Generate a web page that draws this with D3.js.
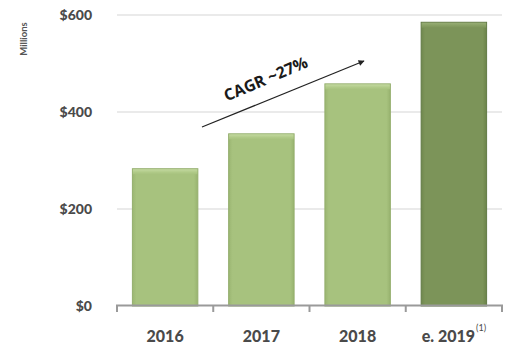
<!DOCTYPE html>
<html><head><meta charset="utf-8">
<script src="https://cdn.jsdelivr.net/npm/d3@7"></script>
<style>
body{margin:0;background:#fff;}
svg{display:block;}
.lbl{font-family:Lato,"Open Sans",sans-serif;font-weight:900;fill:#4a4a4a;}
</style></head>
<body>
<svg id="c" width="515" height="350"></svg>
<script>
const categories = ["2016","2017","2018","e. 2019"];
const values = [283, 355, 458, 585];
const yTicks = [0, 200, 400, 600];
const yTickLabels = ["$0","$200","$400","$600"];
const estimated = [false,false,false,true];
const annotation = "CAGR ~27%";
const yTitle = "Millions";

const svg = d3.select("#c");
const x = d3.scaleBand().domain(categories).range([117, 502]).paddingInner(0.32).paddingOuter(0.16);
const y = d3.scaleLinear().domain([0, 600]).range([306, 15]);

const defs = svg.append("defs");
function grad(id, stops){
  const g = defs.append("linearGradient").attr("id", id).attr("x1",0).attr("y1",0).attr("x2",0).attr("y2",1);
  stops.forEach(s=>g.append("stop").attr("offset",s[0]).attr("stop-color",s[1]));
}
function hgrad(id, stops){
  const g = defs.append("linearGradient").attr("id", id).attr("x1",0).attr("y1",0).attr("x2",1).attr("y2",0);
  stops.forEach(s=>g.append("stop").attr("offset",s[0]).attr("stop-color",s[1]));
}
hgrad("gl",[["0%","#9bb672"],["6%","#a7c27e"],["94%","#a7c27e"],["100%","#98b36f"]]);
hgrad("gd",[["0%","#6f874d"],["6%","#7c9459"],["94%","#7c9459"],["100%","#6b8349"]]);
grad("tl",[["0%","#c3d9a0"],["60%","#b0ca88"],["100%","#a7c27e"]]);
grad("td",[["0%","#97ae74"],["60%","#869e62"],["100%","#7c9459"]]);

// gridlines
svg.append("g").selectAll("line").data(yTicks.filter(d=>d>0)).join("line")
  .attr("x1",117).attr("x2",502).attr("y1",d=>y(d)).attr("y2",d=>y(d))
  .attr("stroke","#e3e3e3").attr("stroke-width",1.5);

// y labels
const ya = svg.append("g").attr("transform","translate(92,0)")
  .call(d3.axisLeft(y).tickValues(yTicks).tickFormat((d,i)=>yTickLabels[i]).tickSize(0).tickPadding(0));
ya.select(".domain").remove();
ya.selectAll("text").attr("class","lbl").attr("font-size",14).attr("dy","0.32em");

// y title
svg.append("text").attr("transform","translate(27,39) rotate(-90)")
  .attr("text-anchor","middle").attr("font-family","Lato,sans-serif").attr("font-weight",700)
  .attr("font-size",9.5).attr("fill","#555").text(yTitle);

// bars
const bars = svg.append("g").selectAll("g").data(categories).join("g");
bars.append("rect")
  .attr("x",d=>x(d)).attr("y",(d,i)=>y(values[i])).attr("width",x.bandwidth())
  .attr("height",(d,i)=>y(0)-y(values[i]))
  .attr("fill",(d,i)=>estimated[i]?"url(#gd)":"url(#gl)")
  .attr("stroke",(d,i)=>estimated[i]?"#627a45":"#94ae6d").attr("stroke-width",1);
// bevel top highlight
bars.append("rect")
  .attr("x",d=>x(d)+0.5).attr("y",(d,i)=>y(values[i])+0.5).attr("width",x.bandwidth()-1).attr("height",5)
  .attr("fill",(d,i)=>estimated[i]?"url(#td)":"url(#tl)");

// x axis
const step = x.step(), gap = step - x.bandwidth();
const bounds = categories.map(d => x(d) - gap/2).concat([x(categories[categories.length-1]) + x.bandwidth() + gap/2]);
const ax = svg.append("g");
ax.append("path")
  .attr("d", "M"+bounds[0]+",312V305.5H"+bounds[bounds.length-1]+"V312")
  .attr("fill","none").attr("stroke","#9a9a9a").attr("stroke-width",2);
ax.selectAll("line").data(bounds.slice(1,-1)).join("line")
  .attr("x1",d=>d).attr("x2",d=>d).attr("y1",305.5).attr("y2",312)
  .attr("stroke","#9a9a9a").attr("stroke-width",2);

const xa = svg.append("g").attr("transform","translate(0,306)")
  .call(d3.axisBottom(x).tickSize(0).tickPadding(0));
xa.select(".domain").remove();
xa.selectAll("text").attr("class","lbl").attr("font-size",16).attr("dy",0).attr("y",36);
xa.selectAll(".tick").filter(d=>d==="e. 2019").select("text")
  .append("tspan").attr("font-size",9).attr("font-weight",400).attr("dy",-11).attr("dx",1).text("(1)");

// arrow
defs.append("marker").attr("id","ah").attr("viewBox","0 0 10 10").attr("refX",9).attr("refY",5)
  .attr("markerWidth",8).attr("markerHeight",6).attr("orient","auto").attr("markerUnits","userSpaceOnUse")
  .append("path").attr("d","M0,0L10,5L0,10z").attr("fill","#222");
svg.append("line").attr("x1",202).attr("y1",127).attr("x2",364).attr("y2",61)
  .attr("stroke","#222").attr("stroke-width",1.2).attr("marker-end","url(#ah)");
svg.append("text").attr("transform","translate(268,84) rotate(-23)")
  .attr("text-anchor","middle").attr("font-family","'Open Sans',sans-serif").attr("font-weight",700)
  .attr("font-size",16).attr("fill","#1a1a1a").text(annotation);
</script>
</body></html>
